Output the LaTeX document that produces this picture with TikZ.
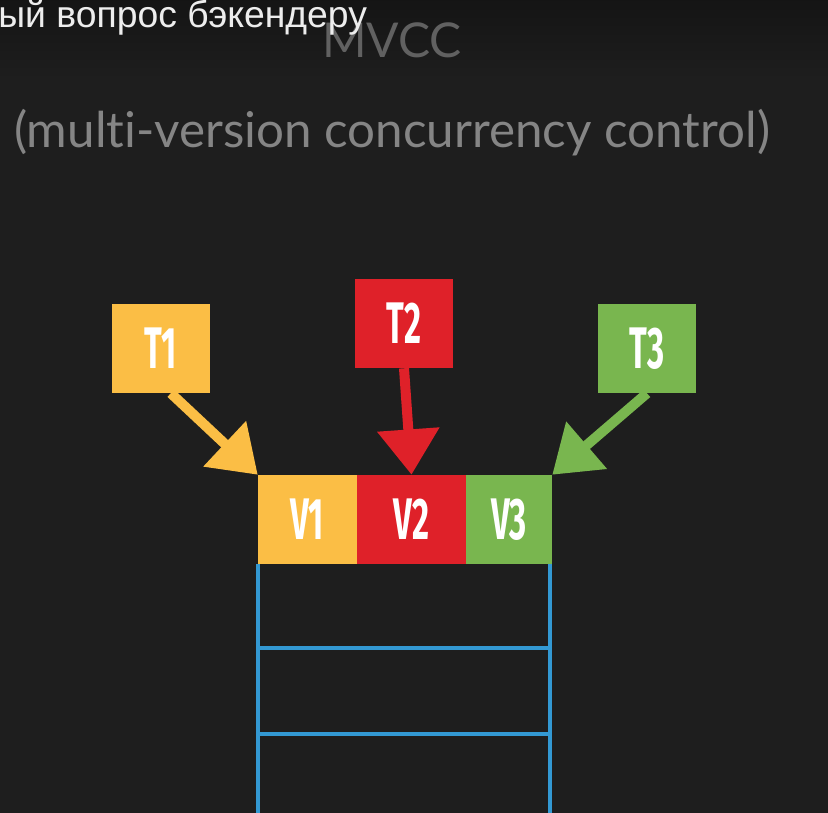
\documentclass[tikz,border=0pt]{standalone}
\usepackage{fontspec}
\usepackage{xcolor}
\usepackage{tikz}
\usetikzlibrary{positioning, calc, arrows.meta}

\setmainfont{Liberation Sans}
\newfontfamily\labelfont[FakeStretch=0.56]{Fira Sans}
\newfontfamily\slidefont[Ligatures=NoCommon]{Lato}

\definecolor{bgdark}{HTML}{1E1E1E}
\definecolor{tyellow}{HTML}{FBBE45}
\definecolor{tred}{HTML}{DF2129}
\definecolor{tgreen}{HTML}{79B64F}
\definecolor{rowblue}{HTML}{3399D3}

\begin{document}
\begin{tikzpicture}[x=0.75pt, y=-0.75pt,
    tbox/.style={minimum width=73.5pt, minimum height=66.75pt, inner sep=0pt, text=white,
      font=\labelfont\bfseries\fontsize{44}{44}\selectfont},
    sketch/.style={line width=7.5pt, -{Triangle[length=34pt, width=45pt]}},
    rowline/.style={rowblue, line width=3pt}]
        \useasboundingbox (0,0) rectangle (828,813);
        \fill[bgdark] (0,0) rectangle (828,813);
        \shade[top color=black!92, bottom color=bgdark] (0,0) rectangle (828,80);

        % Titles
        \node[anchor=base, text=black!62, inner sep=0pt, font=\slidefont\fontsize{36}{36}\selectfont] (mvcc) at (392,58) {MVCC};
        \node[anchor=base, text=black!48, inner sep=0pt, font=\slidefont\fontsize{37}{37}\selectfont] (fullname) at (392,148) {(multi-version concurrency control)};
        \node[anchor=base west, text=white!93!black, inner sep=0pt, font=\fontsize{28}{28}\selectfont] (caption) at (-2,28) {ый вопрос бэкендеру};

        % Versions
        \node[tbox, fill=tyellow, minimum width=74.25pt] (V1) at (307.5,519.5) {V1};
        \node[tbox, fill=tred, minimum width=81.75pt] (V2) at (411.5,519.5) {V2};
        \node[tbox, fill=tgreen, minimum width=64.5pt] (V3) at (509,519.5) {V3};

        % Rows
        \draw[rowline] (258,564) -- (258,815);
        \draw[rowline] (550,564) -- (550,815);
        \draw[rowline] (258,648) -- (550,648);
        \draw[rowline] (258,734) -- (550,734);

        % Transactions
        \node[tbox, fill=tyellow] (T1) at (161,348.5) {T1};
        \node[tbox, fill=tred] (T2) at (404,323.5) {T2};
        \node[tbox, fill=tgreen] (T3) at (647,348.5) {T3};

        \draw[sketch, tyellow] ($(T1.south)!0.2!(T1.south east)$) -- (V1.north west);
        \draw[sketch, tred] (T2.south) -- (V2.north);
        \draw[sketch, tgreen] (T3.south) -- (V3.north east);
\end{tikzpicture}
\end{document}
